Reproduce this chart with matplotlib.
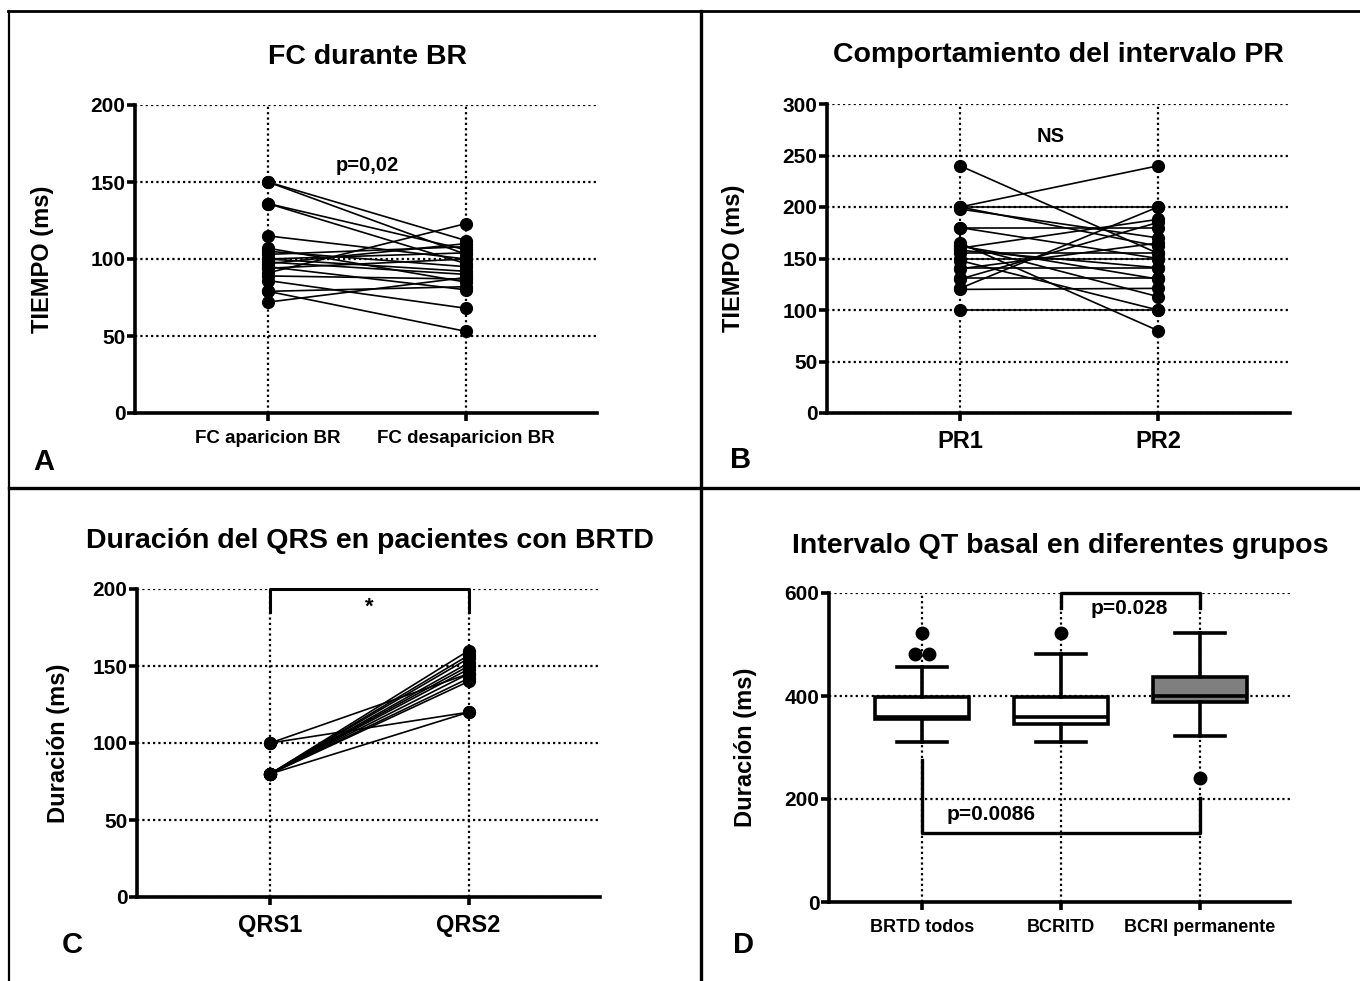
import matplotlib
matplotlib.use("Agg")
import matplotlib.pyplot as plt
from matplotlib.lines import Line2D

plt.rcParams['font.family'] = ['Liberation Sans', 'DejaVu Sans']
plt.rcParams['font.weight'] = 'bold'

# ---------------- data ----------------
# Panel A
fc_categories = ['FC aparicion BR', 'FC desaparicion BR']
fc_aparicion = [150, 150, 136, 136, 115, 107, 105, 103, 100, 100, 98, 97, 95, 94, 91, 89, 86, 79, 79, 72]
fc_desaparicion = [112, 103, 106, 97, 100, 85, 95, 108, 92, 104, 90, 110, 80, 100, 123, 87, 68, 53, 82, 88]

# Panel B
pr_categories = ['PR1', 'PR2']
pr1 = [240, 200, 200, 200, 198, 180, 180, 165, 163, 162, 160, 158, 155, 150, 148, 141, 140, 131, 130, 121, 120, 100]
pr2 = [155, 240, 200, 162, 170, 180, 150, 80, 113, 130, 188, 141, 155, 150, 100, 141, 165, 131, 185, 200, 121, 100]

# Panel C
qrs_categories = ['QRS1', 'QRS2']
qrs1 = [100, 100, 80, 80, 80, 80, 80, 80, 80, 80, 80, 80]
qrs2 = [120, 145, 120, 160, 157, 155, 152, 150, 148, 145, 142, 140]

# Panel D
qt_groups = ['BRTD todos', 'BCRITD', 'BCRI permanente']
qt_whislo = [311, 311, 322]
qt_q1 = [356, 346, 388]
qt_med = [360, 359, 400]
qt_q3 = [398, 398, 437]
qt_whishi = [456, 481, 522]
qt_fliers = [[522, 481, 481], [522], [241]]
qt_flier_dx = [[0, -0.05, 0.05], [0], [0]]   # horizontal offsets of outlier dots
qt_colors = ['white', 'white', '#7f7f7f']

W, H = 1360, 981
fig = plt.figure(figsize=(W / 100, H / 100), dpi=100)


def px_axes(l, t, r, b):
    return fig.add_axes([l / W, 1 - b / H, (r - l) / W, (b - t) / H])


def style(ax, ylim, yticks, ncat, xlim, cats, xlab_size, ylabel, ylab_x):
    ax.set_ylim(*ylim)
    ax.set_xlim(*xlim)
    ax.set_yticks(yticks)
    ax.set_xticks(range(ncat))
    ax.set_xticklabels(cats, fontsize=xlab_size, fontweight='bold')
    ax.set_yticklabels([str(v) for v in yticks], fontsize=15, fontweight='bold')
    for s in ['top', 'right']:
        ax.spines[s].set_visible(False)
    for s in ['left', 'bottom']:
        ax.spines[s].set_linewidth(2.6)
    ax.tick_params(axis='both', direction='out', length=6, width=2.6, pad=1)
    ax.tick_params(axis='x', pad=6)
    ax.set_axisbelow(True)
    ax.grid(True, linestyle=(0, (1, 1.4)), color='black', linewidth=1.6)
    ax.set_ylabel(ylabel, fontsize=17, fontweight='bold')
    ax.yaxis.set_label_coords(ylab_x, 0.5)


def paired(ax, a, b):
    for v1, v2 in zip(a, b):
        ax.plot([0, 1], [v1, v2], color='black', lw=1.2, marker='o',
                markersize=8.5, markerfacecolor='black', markeredgecolor='black', zorder=3)


# ---------------- Panel A ----------------
axA = px_axes(135, 105, 597, 413)
style(axA, (0, 200), [0, 50, 100, 150, 200], 2, (-0.672, 1.662), fc_categories, 13.5,
      'TIEMPO (ms)', -0.175)
paired(axA, fc_aparicion, fc_desaparicion)
axA.text(0.5, 161, 'p=0,02', ha='center', va='center', fontsize=14.5, fontweight='bold')

# ---------------- Panel B ----------------
axB = px_axes(827, 104, 1290, 413)
style(axB, (0, 300), [0, 50, 100, 150, 200, 250, 300], 2, (-0.672, 1.667), pr_categories, 17,
      'TIEMPO (ms)', -0.178)
paired(axB, pr1, pr2)
axB.text(0.46, 268, 'NS', ha='center', va='center', fontsize=14.5, fontweight='bold')

# ---------------- Panel C ----------------
axC = px_axes(137, 589, 600, 897)
style(axC, (0, 200), [0, 50, 100, 150, 200], 2, (-0.672, 1.662), qrs_categories, 17,
      'Duración (ms)', -0.145)
paired(axC, qrs1, qrs2)
axC.plot([0, 0, 1, 1], [185, 200, 200, 185], color='black', lw=2.2, clip_on=False, zorder=4)
axC.text(0.5, 188, '*', ha='center', va='center', fontsize=16, fontweight='bold')

# ---------------- Panel D ----------------
axD = px_axes(829, 593, 1290, 902)
style(axD, (0, 600), [0, 200, 400, 600], 3, (-0.67, 2.65), qt_groups, 13,
      'Duración (ms)', -0.157)
stats = []
for i in range(len(qt_groups)):
    stats.append(dict(med=qt_med[i], q1=qt_q1[i], q3=qt_q3[i],
                      whislo=qt_whislo[i], whishi=qt_whishi[i], fliers=[]))
bp = axD.bxp(stats, positions=range(len(qt_groups)), widths=0.68, patch_artist=True,
             showfliers=False,
             boxprops=dict(linewidth=2.6, edgecolor='black'),
             medianprops=dict(color='black', linewidth=2.6),
             whiskerprops=dict(color='black', linewidth=2.6),
             capprops=dict(color='black', linewidth=2.6),
             capwidths=0.36, manage_ticks=False)
for patch, c in zip(bp['boxes'], qt_colors):
    patch.set_facecolor(c)
    patch.set_zorder(3)
for k in ['medians', 'whiskers', 'caps']:
    for art in bp[k]:
        art.set_zorder(3)
for i, (fl, dx) in enumerate(zip(qt_fliers, qt_flier_dx)):
    axD.plot([i + d for d in dx], fl, 'o', color='black', markersize=9, zorder=4, linestyle='none')
# significance brackets
axD.plot([1, 1, 2, 2], [570, 600, 600, 570], color='black', lw=2.4, clip_on=False, zorder=4)
axD.text(1.49, 569, 'p=0.028', ha='center', va='center', fontsize=15, fontweight='bold')
axD.plot([0, 0, 2, 2], [276, 134, 134, 202], color='black', lw=2.4, zorder=4)
axD.text(0.5, 169, 'p=0.0086', ha='center', va='center', fontsize=15, fontweight='bold')

# ---------------- titles & letters ----------------
def ftext(x, y, s, size, ha='center'):
    fig.text(x / W, 1 - y / H, s, ha=ha, va='center', fontsize=size, fontweight='bold')

ftext(368, 57, 'FC durante BR', 20.5)
ftext(1058, 55, 'Comportamiento del intervalo PR', 20.5)
ftext(370, 541, 'Duración del QRS en pacientes con BRTD', 20.5)
ftext(1060, 546, 'Intervalo QT basal en diferentes grupos', 20.5)

ftext(33, 462, 'A', 21, ha='left')
ftext(730, 460, 'B', 21, ha='left')
ftext(62, 945, 'C', 21, ha='left')
ftext(733, 945, 'D', 21, ha='left')

# ---------------- panel borders ----------------
def fline(x0, y0, x1, y1, lw):
    fig.add_artist(Line2D([x0 / W, x1 / W], [1 - y0 / H, 1 - y1 / H], color='black', lw=lw,
                          transform=fig.transFigure))

fline(8, 11, W, 11, 2.0)
fline(9, 11, 9, H, 1.6)
fline(701, 11, 701, H, 2.4)
fline(9, 488, W, 488, 2.4)

fig.savefig('out.png', dpi=100)
